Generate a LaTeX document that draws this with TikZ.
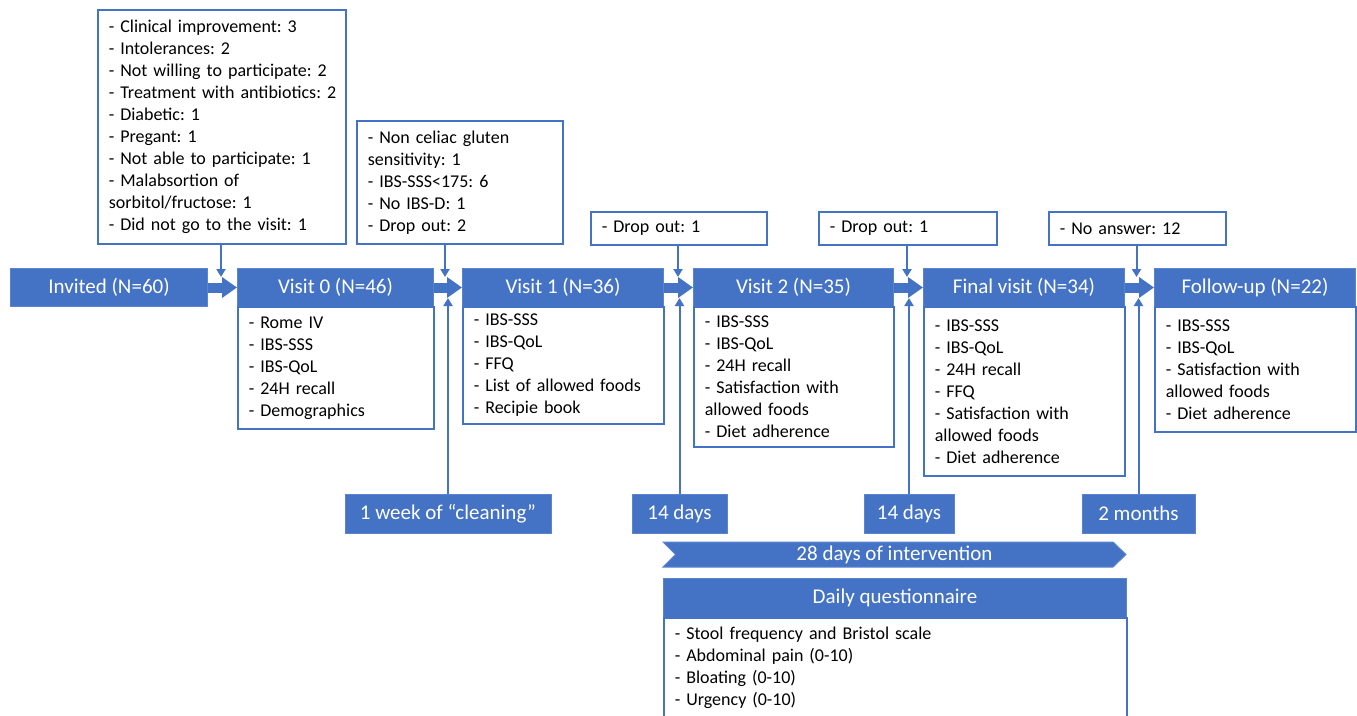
\documentclass[tikz,border=0pt]{standalone}
\usepackage{fontspec}
\setmainfont{Carlito}
\usetikzlibrary{arrows.meta,calc}
\definecolor{ob}{HTML}{4472C4}
\definecolor{obl}{HTML}{5A85CE}
\newcommand\hfnt{\fontsize{21}{25}\selectfont}
\newcommand\bfnt{\fontsize{18}{22}\selectfont}
\frenchspacing
\begin{document}
\frenchspacing
\begin{tikzpicture}[x=1pt,y=-1pt,
  hdr/.style={fill=ob,draw=obl,line width=1pt,text=white,font=\hfnt,inner sep=0pt,align=center,anchor=north west},
  lbl/.style={fill=ob,draw=obl,line width=1pt,text=white,font=\hfnt,inner sep=0pt,align=center},
  bodybox/.style={draw=ob,line width=1.6pt,fill=white,font=\bfnt\frenchspacing,align=left,inner xsep=11pt,inner ysep=0pt,anchor=north west},
  blk/.style={draw=ob,line width=10pt,-{Triangle[length=15pt,width=20pt]}},
  varr/.style={draw=ob,line width=2pt,-{Triangle[length=8pt,width=9pt]}}]
\useasboundingbox (0,0) rectangle (1357,715);

% top boxes
\node[bodybox,minimum width=248,minimum height=234,text width=226] (dA) at (97,9)
 {- Clinical improvement: 3\\- Intolerances: 2\\- Not willing to participate: 2\\\mbox{- Treatment with antibiotics: 2}\\- Diabetic: 1\\- Pregant: 1\\- Not able to participate: 1\\- Malabsortion of\\sorbitol/fructose: 1\\- Did not go to the visit: 1};
\node[bodybox,minimum width=206,minimum height=123,text width=184] (dB) at (356,120)
 {- Non celiac gluten\\sensitivity: 1\\- IBS-SSS<175: 6\\- No IBS-D: 1\\- Drop out: 2};
\node[bodybox,minimum width=176,minimum height=33,text width=154] (dC) at (590,211) {- Drop out: 1};
\node[bodybox,minimum width=178,minimum height=33,text width=156] (dD) at (818,211) {- Drop out: 1};
\node[bodybox,minimum width=177,minimum height=33,text width=155] (dE) at (1048,211) {- No answer: 12};

% headers
\node[hdr,minimum width=197,minimum height=38] (inv) at (10,268) {Invited (N=60)};
\node[hdr,minimum width=196,minimum height=38] (v0h) at (237,268) {Visit 0 (N=46)};
\node[hdr,minimum width=201,minimum height=38] (v1h) at (462,268) {Visit 1 (N=36)};
\node[hdr,minimum width=200,minimum height=38] (v2h) at (693,268) {Visit 2 (N=35)};
\node[hdr,minimum width=201,minimum height=38] (fvh) at (923,268) {Final visit (N=34)};
\node[hdr,minimum width=201,minimum height=38] (fuh) at (1154,268) {Follow-up (N=22)};

% bodies
\node[bodybox,minimum width=196,minimum height=122,text width=174] (v0b) at (237,306)
 {- Rome IV\\- IBS-SSS\\- IBS-QoL\\- 24H recall\\- Demographics};
\node[bodybox,minimum width=201,minimum height=117,text width=179] (v1b) at (462,306)
 {- IBS-SSS\\- IBS-QoL\\- FFQ\\- List of allowed foods\\- Recipie book};
\node[bodybox,minimum width=200,minimum height=140,text width=178] (v2b) at (693,306)
 {- IBS-SSS\\- IBS-QoL\\- 24H recall\\- Satisfaction with\\allowed foods\\- Diet adherence};
\node[bodybox,minimum width=201,minimum height=169,text width=179] (fvb) at (923,306)
 {- IBS-SSS\\- IBS-QoL\\- 24H recall\\- FFQ\\- Satisfaction with\\allowed foods\\- Diet adherence};
\node[bodybox,minimum width=201,minimum height=125,text width=179] (fub) at (1154,306)
 {- IBS-SSS\\- IBS-QoL\\- Satisfaction with\\allowed foods\\- Diet adherence};

% block arrows
\draw[blk] (inv.east) -- (v0h.west);
\draw[blk] (v0h.east) -- (v1h.west);
\draw[blk] (v1h.east) -- (v2h.west);
\draw[blk] (v2h.east) -- (fvh.west);
\draw[blk] (fvh.east) -- (fuh.west);

% bottom labels
\node[lbl,minimum width=206,minimum height=39] (w1) at (448,513.5) {1 week of “cleaning”};
\node[lbl,minimum width=95,minimum height=39] (w2) at (679.5,513.5) {14 days};
\node[lbl,minimum width=90,minimum height=39] (w3) at (909,513.5) {14 days};
\node[lbl,minimum width=113,minimum height=39] (w4) at (1138.5,513.5) {2 months};

% arrow tips
\coordinate (tA) at (221,277);
\coordinate (tB) at (445,277);
\coordinate (tC) at (678,277);
\coordinate (tD) at (907,277);
\coordinate (tE) at (1136.5,277);
\coordinate (u1) at (448,298);
\coordinate (u2) at (679.5,298);
\coordinate (u3) at (909,298);
\coordinate (u4) at (1138.5,298);

\draw[varr] (dA.south -| tA) -- (tA);
\draw[varr] (dB.south -| tB) -- (tB);
\draw[varr] (dC.south -| tC) -- (tC);
\draw[varr] (dD.south -| tD) -- (tD);
\draw[varr] (dE.south -| tE) -- (tE);
\draw[varr] (w1.north -| u1) -- (u1);
\draw[varr] (w2.north -| u2) -- (u2);
\draw[varr] (w3.north -| u3) -- (u3);
\draw[varr] (w4.north -| u4) -- (u4);

% intervention chevron
\filldraw[fill=ob,draw=obl,line width=1pt] (663,542) -- (1113,542) -- (1126,554.5) -- (1113,567) -- (663,567) -- (675.5,554.5) -- cycle;
\node[text=white,font=\hfnt,inner sep=0pt] (iv) at (894.5,555) {28 days of intervention};

% daily questionnaire
\node[hdr,minimum width=463,minimum height=39] (dqh) at (663,578) {Daily questionnaire};
\node[bodybox,minimum width=463,minimum height=100,text width=441] (dqb) at (663,617)
 {- Stool frequency and Bristol scale\\- Abdominal pain (0-10)\\- Bloating (0-10)\\- Urgency (0-10)};
\end{tikzpicture}
\end{document}
